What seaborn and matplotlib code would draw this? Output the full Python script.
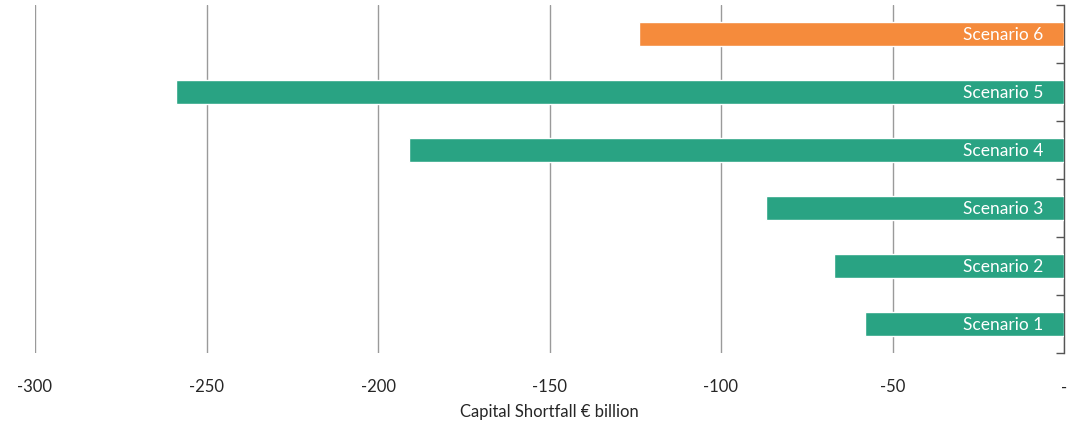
import numpy as np
import matplotlib.pyplot as plt
import seaborn as sns
import pandas as pd
from matplotlib.ticker import FixedLocator, FuncFormatter

# data, top to bottom
scenarios = ['Scenario 6', 'Scenario 5', 'Scenario 4', 'Scenario 3', 'Scenario 2', 'Scenario 1']
shortfall = [-124, -259, -191, -87, -67, -58]
bar_colors = ['#F58B3C', '#29A383', '#29A383', '#29A383', '#29A383', '#29A383']

df = pd.DataFrame({'scenario': scenarios, 'shortfall': shortfall})

sns.set_style('white')
plt.rcParams['font.family'] = ['Lato', 'DejaVu Sans']

fig = plt.figure(figsize=(10.75, 4.24), dpi=100)
ax = fig.add_axes([35 / 1075, 1 - 353 / 424, (1064 - 35) / 1075, 348 / 424])

sns.barplot(data=df, x='shortfall', y='scenario', hue='scenario', palette=bar_colors,
            orient='h', width=0.4, saturation=1, legend=False, ax=ax, zorder=3)

# labels inside the bars
for i, name in enumerate(scenarios):
    ax.text(-6, i, name, ha='right', va='center_baseline', color='white', fontsize=12.5, zorder=4)

ax.set_xlim(-300, 0)
ax.set_ylim(5.5, -0.5)
ax.set_xticks([-300, -250, -200, -150, -100, -50, 0])
ax.xaxis.set_major_formatter(FuncFormatter(lambda v, p: '-' if v == 0 else f'{int(v)}'))
ax.grid(axis='x', color='#9a9a9a', linewidth=1, zorder=0)
ax.tick_params(axis='x', length=0, pad=19, labelsize=12)
ax.set_xlabel('Capital Shortfall € billion', fontsize=12, labelpad=6)
ax.set_ylabel('')

# right spine with ticks at category boundaries
ax.yaxis.tick_right()
ax.set_yticks([])
ax.yaxis.set_minor_locator(FixedLocator(np.arange(-0.5, 6.0, 1.0)))
ax.tick_params(axis='y', which='minor', direction='in', length=6, width=1, color='#555555', right=True, left=False)
for side in ['top', 'left', 'bottom']:
    ax.spines[side].set_visible(False)
ax.spines['right'].set_color('#555555')
ax.spines['right'].set_linewidth(1)

fig.savefig('out.png', dpi=100)
